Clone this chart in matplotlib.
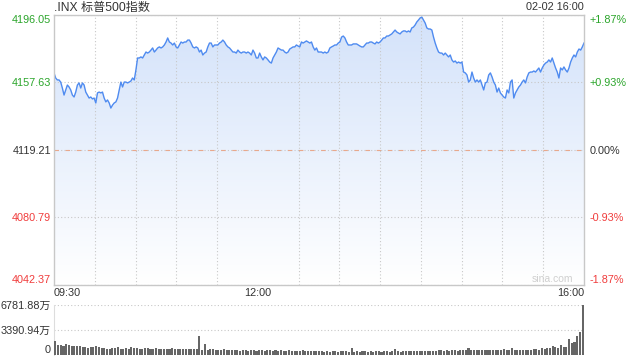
import matplotlib
matplotlib.use("Agg")
import matplotlib.pyplot as plt
import numpy as np
from matplotlib.colors import LinearSegmentedColormap

plt.rcParams['font.family'] = ['Liberation Sans', 'Noto Sans CJK SC', 'DejaVu Sans']

# ---------------- data ----------------
title = ".INX 标普500指数"
date_label = "02-02 16:00"
prev_close = 4119.21
price_ticks = [4042.37, 4080.79, 4119.21, 4157.63, 4196.05]
price_tick_labels = ["4042.37", "4080.79", "4119.21", "4157.63", "4196.05"]
pct_tick_labels = ["-1.87%", "-0.93%", "0.00%", "+0.93%", "+1.87%"]
time_ticks = [0, 150, 390]
time_tick_labels = ["09:30", "12:00", "16:00"]

prices = [
    # 09:30 - ~11:10
    4162.8, 4159.9, 4158.8, 4158.8, 4157.6, 4154.2, 4150.2, 4153.1, 4155.9, 4154.8,
    4153.1, 4150.2, 4149.1, 4151.9, 4155.9, 4157.1, 4154.2, 4157.1, 4155.9, 4151.9,
    4150.2, 4148.5, 4149.1, 4148.0, 4148.5, 4145.7, 4151.4, 4151.9, 4151.4, 4151.9,
    4148.5, 4146.3, 4147.4, 4145.7, 4142.8, 4144.5, 4145.7, 4146.3, 4148.5, 4153.1,
    4157.6, 4154.8, 4157.6, 4157.6, 4157.1, 4157.6, 4158.2, 4159.9, 4158.8, 4164.5,
    4171.3, 4171.3, 4171.9, 4171.3, 4173.0, 4174.7, 4174.1, 4174.7, 4175.8, 4177.0,
    4174.7, 4175.8, 4177.0, 4177.6, 4177.0, 4177.6, 4178.7, 4180.4, 4182.7, 4180.4,
    4179.8, 4178.7, 4179.8, 4177.6, 4177.0, 4178.7, 4180.4, 4179.8, 4180.4, 4180.4,
    4181.5, 4181.5,
    # ~11:10 - ~12:45
    4179.8, 4177.6, 4177.0, 4177.6, 4177.0, 4174.7, 4175.8, 4173.0, 4174.1, 4174.7,
    4177.6, 4179.8, 4179.8, 4177.6, 4178.7, 4178.7, 4178.7, 4179.8, 4180.4, 4181.5,
    4180.4, 4178.7, 4177.6, 4177.0, 4175.8, 4174.7, 4174.7, 4174.1, 4175.8, 4174.7,
    4174.1, 4174.7, 4174.7, 4174.1, 4174.7, 4174.1, 4173.0, 4175.8, 4174.1, 4171.3,
    4171.3, 4174.1, 4171.9, 4170.2, 4171.9, 4171.3, 4170.2, 4169.0, 4168.4, 4171.3,
    4173.0, 4174.7, 4177.0, 4176.4, 4175.8, 4175.8, 4174.7, 4174.1, 4174.7, 4176.4,
    4177.0, 4177.6, 4177.6, 4178.7, 4178.1, 4177.6, 4180.4, 4179.8, 4180.4, 4181.0,
    4180.4, 4179.8, 4180.4, 4177.6, 4175.8, 4177.0, 4174.7, 4174.7,
    # ~12:45 - ~14:20
    4174.7, 4174.1, 4174.7, 4174.1, 4174.7, 4177.0, 4177.6, 4178.1, 4178.7, 4178.7,
    4179.8, 4180.4, 4183.2, 4183.8, 4182.7, 4180.4, 4178.7, 4178.7, 4178.7, 4179.3,
    4179.3, 4179.3, 4178.7, 4178.1, 4177.6, 4177.6, 4178.7, 4179.8, 4179.8, 4180.4,
    4180.4, 4179.8, 4179.3, 4180.4, 4179.8, 4180.4, 4181.5, 4182.7, 4182.7, 4183.8,
    4183.8, 4184.4, 4185.0, 4186.1, 4187.2, 4186.1, 4185.5, 4185.0, 4186.1, 4186.7,
    4186.7, 4186.1, 4186.7, 4186.1, 4188.4, 4188.9, 4190.1, 4191.8, 4192.9, 4194.1,
    4194.6, 4192.9, 4191.2, 4188.4, 4187.8, 4187.8, 4187.2, 4183.2, 4179.8, 4177.0,
    4174.7, 4174.1, 4174.1, 4173.0, 4174.1, 4173.0, 4171.9, 4173.0, 4170.2,
    # ~14:20 - 16:00
    4169.0, 4169.6, 4168.4, 4169.0, 4168.4, 4169.0, 4163.3, 4162.8, 4161.6, 4157.6,
    4158.8, 4163.3, 4159.9, 4157.6, 4158.8, 4157.6, 4158.8, 4155.9, 4153.1, 4157.1,
    4157.6, 4161.6, 4162.8, 4160.5, 4157.6, 4155.9, 4151.9, 4154.2, 4151.4, 4150.2,
    4149.1, 4148.5, 4153.1, 4151.4, 4157.6, 4158.8, 4148.5, 4151.4, 4153.1, 4154.8,
    4155.9, 4157.6, 4158.8, 4157.1, 4160.5, 4162.8, 4163.3, 4163.3, 4163.9, 4163.3,
    4164.5, 4165.6, 4163.3, 4165.6, 4167.3, 4168.4, 4169.0, 4170.2, 4169.0, 4171.3,
    4168.4, 4165.6, 4163.3, 4159.9, 4165.6, 4164.5, 4166.2, 4164.5, 4163.3, 4165.6,
    4169.0, 4171.3, 4173.0, 4171.9, 4174.7, 4176.4, 4175.8, 4177.6, 4179.8,
]

volume = [  # 万, one bar per 2 minutes
    1940, 1360, 1360, 1260, 1490, 1360, 1260, 1260, 1220, 1220,
    1130, 1040, 900, 1130, 1040, 1220, 1040, 990, 900, 770,
    810, 900, 950, 1040, 860, 810, 900, 860, 1130, 990,
    900, 860, 810, 900, 950, 860, 810, 900, 860, 810,
    770, 860, 810, 950, 860, 810, 770, 860, 810, 770,
    860, 770, 810, 2580, 680, 1490, 680, 770, 860, 720,
    680, 720, 770, 680, 640, 720, 680, 640, 600, 680,
    640, 600, 680, 640, 600, 720, 640, 600, 680, 640,
    600, 640, 600, 680, 600, 560, 640, 600, 560, 600,
    560, 640, 600, 560, 600, 560, 540, 500, 540, 450,
    500, 450, 500, 540, 450, 500, 540, 500, 450, 990,
    450, 500, 450, 500, 540, 450, 500, 450, 540, 500,
    450, 540, 500, 450, 540, 810, 500, 450, 540, 500,
    540, 590, 500, 540, 590, 540, 590, 540, 590, 540,
    500, 680, 640, 590, 640, 590, 640, 680, 590, 640,
    680, 720, 900, 720, 640, 680, 640, 680, 640, 720,
    680, 640, 720, 680, 720, 810, 720, 680, 900, 720,
    680, 720, 680, 720, 680, 720, 810, 860, 720, 900,
    860, 950, 900, 1220, 1040, 950, 1360, 1130, 1130, 2120,
    1670, 1810, 2580, 3160, 6781.88,
]
vol_ticks = [0, 3390.94, 6781.88]
vol_tick_labels = ["0", "3390.94万", "6781.88万"]

# ---------------- style ----------------
GREEN = "#2aa52a"
RED = "#f03c3c"
DARK = "#333333"
GRID = "#c8c8c8"
label_colors = [RED, RED, DARK, GREEN, GREEN]
FS = 7.8

fig = plt.figure(figsize=(6.4, 3.6), dpi=100)
ax = fig.add_axes([54 / 640, 75.5 / 360, 530 / 640, 270 / 360])
axv = fig.add_axes([54 / 640, 5 / 360, 530 / 640, 50 / 360])

t = np.linspace(0, 390, len(prices))
lo, hi = price_ticks[0], price_ticks[-1]
ax.set_xlim(0, 390)
ax.set_ylim(lo, hi)

# gradient fill under line
poly = ax.fill_between(t, prices, lo, facecolor="none", edgecolor="none")
grad = np.linspace(1, 0, 256).reshape(-1, 1)
cmap = LinearSegmentedColormap.from_list("g", ["#ffffff", "#d3e2fa"])
im = ax.imshow(grad, extent=[0, 390, lo, hi], aspect="auto", cmap=cmap,
               origin="upper", zorder=1, vmin=0, vmax=1)
im.set_clip_path(poly.get_paths()[0], transform=ax.transData)

ax.plot(t, prices, color="#4f8bf0", lw=1.0, zorder=4)

# grid (drawn above the fill)
ax.set_axisbelow(False)
ax.set_xticks(np.arange(30, 390, 30), minor=True)
ax.grid(which="minor", axis="x", color=GRID, lw=0.8, ls=(0, (1, 2)), zorder=2)
ax.set_yticks(price_ticks)
ax.grid(which="major", axis="y", color=GRID, lw=0.8, ls=(0, (1, 2)), zorder=2)
ax.axhline(prev_close, color="#e8a88c", lw=0.8, ls=(0, (4, 6)), zorder=3)

ax.set_xticks(time_ticks)
ax.set_xticklabels(time_tick_labels)
ax.set_yticklabels(price_tick_labels)
ax.tick_params(which="both", length=0)
ax.tick_params(axis="y", labelsize=FS, pad=2.2)
ax.tick_params(axis="x", labelsize=FS, pad=2.5, labelcolor=DARK)
for lab, c in zip(ax.get_yticklabels(), label_colors):
    lab.set_color(c)
ylabs = ax.get_yticklabels()
ylabs[0].set_verticalalignment("bottom")
ylabs[-1].set_verticalalignment("top")
xlabs = ax.get_xticklabels()
xlabs[0].set_horizontalalignment("left")
xlabs[-1].set_horizontalalignment("right")

for s in ax.spines.values():
    s.set_color(GRID)
    s.set_linewidth(1.0)
    s.set_zorder(5)

ax2 = ax.twinx()
ax2.set_ylim(lo, hi)
ax2.set_yticks(price_ticks)
ax2.set_yticklabels(pct_tick_labels)
ax2.tick_params(length=0, labelsize=FS, pad=3.8)
for lab, c in zip(ax2.get_yticklabels(), label_colors):
    lab.set_color(c)
rlabs = ax2.get_yticklabels()
rlabs[0].set_verticalalignment("bottom")
rlabs[-1].set_verticalalignment("top")
for s in ax2.spines.values():
    s.set_visible(False)

ax.text(0.979, 0.021, "sina.com", transform=ax.transAxes, ha="right",
        va="center", color="#cfcfcf", fontsize=7.5, zorder=5)

fig.text(54 / 640, 1 - 7.5 / 360, title, ha="left", va="center",
         fontsize=8.7, color=DARK)
fig.text(584 / 640, 1 - 7.5 / 360, date_label, ha="right", va="center",
         fontsize=FS, color=DARK)

# volume
vt = np.arange(len(volume)) * 2 + 1
axv.bar(vt, volume, width=1.5, color="#666666", zorder=3)
axv.set_xlim(0, 390)
axv.set_ylim(0, vol_ticks[-1])
axv.set_yticks(vol_ticks)
axv.set_yticklabels(vol_tick_labels)
axv.set_xticks([])
axv.tick_params(length=0, labelsize=FS, pad=2.2, labelcolor=DARK)
vlabs = axv.get_yticklabels()
vlabs[0].set_verticalalignment("bottom")
axv.grid(axis="y", color=GRID, lw=0.8, ls=(0, (1, 2)))
for k, s in axv.spines.items():
    s.set_visible(k == "left")
axv.spines["left"].set_color("#dddddd")

fig.savefig("out.png", dpi=100)
